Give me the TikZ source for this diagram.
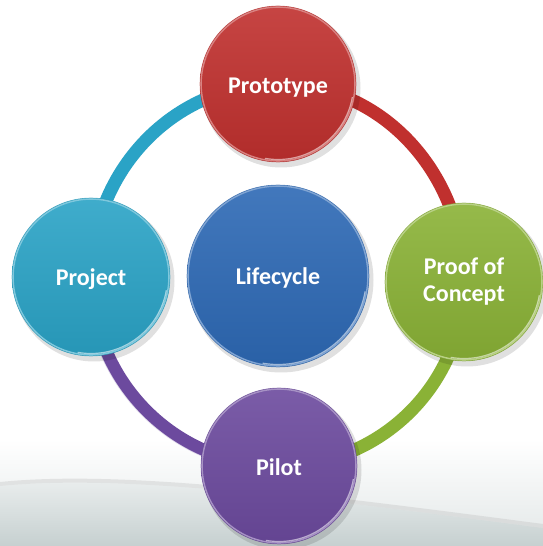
\documentclass[tikz,border=0pt]{standalone}
\usepackage{fontspec}
\setmainfont{Carlito}
\usetikzlibrary{shadings}
\definecolor{protoC}{HTML}{C0302E}
\definecolor{projC}{HTML}{2AA3C6}
\definecolor{lifeC}{HTML}{2D69B5}
\definecolor{proofC}{HTML}{8AB236}
\definecolor{pilotC}{HTML}{6C4A9E}
\definecolor{mist}{HTML}{C6D0D0}
\tikzset{
  ball/.style={circle, minimum size=#1, inner sep=0pt},
  lbl/.style={text=white, align=center, font=\bfseries\fontsize{24}{27}\selectfont},
  ringseg/.style={line width=13pt, draw=#1, line cap=butt},
  ringrim/.style={line width=1.2pt, draw=white, opacity=0.75},
}
\newcommand{\glossball}[3]{% name, colour, radius
  \fill[black, opacity=0.12] ([xshift=3pt,yshift=-4pt]#1.center) circle (#3+1.5pt);
  \shade[top color=#2!90!white, bottom color=#2!92!black]
    (#1.center) circle (#3);
  \draw[#2!60!white, line width=1.6pt] (#1.center) circle (#3-1pt);
  \draw[white, opacity=0.55, line width=1.2pt]
    ([shift={(-100:#3-2.5pt)}]#1.center) arc[start angle=-100, end angle=-10, radius=#3-2.5pt];
  \draw[#2!90!black, opacity=0.6, line width=0.6pt] (#1.center) circle (#3);
}
\begin{document}
\begin{tikzpicture}[x=1pt,y=1pt]
  \useasboundingbox (0,0) rectangle (543,546);
  \fill[white] (0,0) rectangle (543,546);
  % soft grey-green swoosh along the bottom edge
  \shade[top color=white, bottom color=mist]
    (0,0) -- (0,106) -- (543,106) -- (543,0) -- cycle;
  \fill[white, opacity=0.5]
    (0,60) .. controls (120,72) and (300,50) .. (543,18) -- (543,106) -- (0,106) -- cycle;
  \draw[gray!50, line width=4pt, opacity=0.35]
    (0,62) .. controls (120,74) and (300,52) .. (543,20);

  % node placement
  \node[ball=156pt] (proto) at (278,462) {};
  \node[ball=158pt] (proj)  at (91,269)  {};
  \node[ball=182pt] (life)  at (278,270) {};
  \node[ball=158pt] (proof) at (464,264) {};
  \node[ball=156pt] (pilot) at (279,80)  {};

  % ring connecting the stages
  \draw[ringseg=projC]  (proj.center)  to[out=90,in=180]  (proto.center);
  \draw[ringseg=protoC] (proto.center) to[out=0,in=90]    (proof.center);
  \draw[ringseg=proofC] (proof.center) to[out=-90,in=0]   (pilot.center);
  \draw[ringseg=pilotC] (pilot.center) to[out=180,in=-90] (proj.center);
  \draw[ringrim] ([yshift=-6.5pt]pilot.center) to[out=180,in=-90] ([xshift=-6.5pt]proj.center);

  % glossy discs
  \glossball{proto}{protoC}{78pt}
  \glossball{proj}{projC}{79pt}
  \glossball{life}{lifeC}{91pt}
  \glossball{proof}{proofC}{79pt}
  \glossball{pilot}{pilotC}{78pt}

  % labels
  \node[lbl] at ([yshift=-4pt]proto.center) {Prototype};
  \node[lbl] at ([yshift=-2pt]proj.center) {Project};
  \node[lbl] at ([yshift=-2pt]life.center) {Lifecycle};
  \node[lbl] at ([yshift=-1pt]pilot.center) {Pilot};
  \node[lbl] at (proof.center) {Proof of\\Concept};
\end{tikzpicture}
\end{document}
